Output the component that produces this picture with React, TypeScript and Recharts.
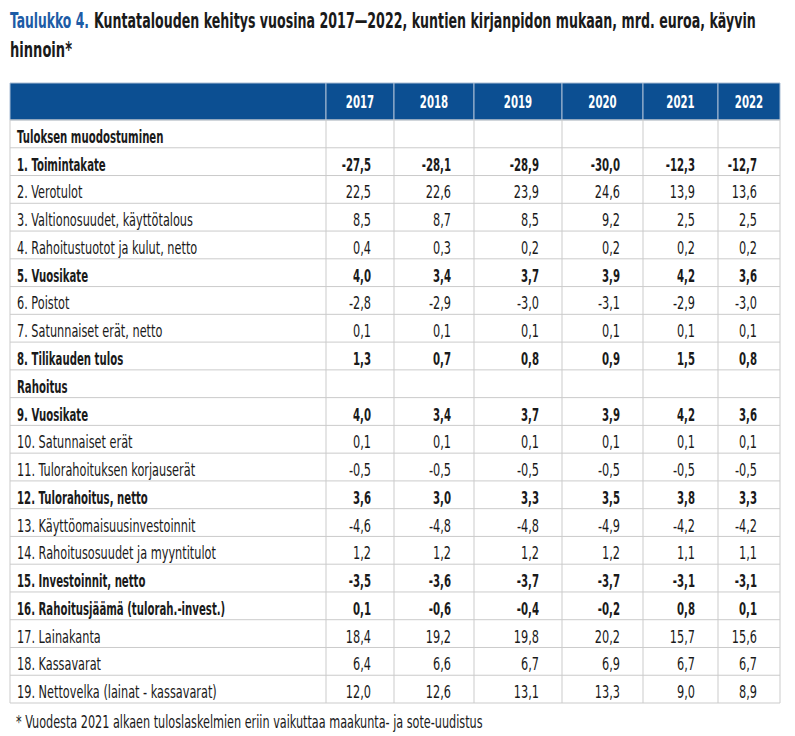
import React, { useLayoutEffect, useRef, useState } from 'react';
import { ScatterChart, Scatter, XAxis, YAxis, ReferenceLine, ReferenceArea } from 'recharts';

// ---------- data ----------
const titleLead = 'Taulukko 4.';
const titleRest = 'Kuntatalouden kehitys vuosina 2017\u20142022, kuntien kirjanpidon mukaan, mrd. euroa, käyvin';
const titleLine2 = 'hinnoin*';
const footnote = '* Vuodesta 2021 alkaen tuloslaskelmien eriin vaikuttaa maakunta- ja sote-uudistus';

const years = ['2017', '2018', '2019', '2020', '2021', '2022'];

const rowLabels = [
  'Tuloksen muodostuminen',
  '1. Toimintakate',
  '2. Verotulot',
  '3. Valtionosuudet, käyttötalous',
  '4. Rahoitustuotot ja kulut, netto',
  '5. Vuosikate',
  '6. Poistot',
  '7. Satunnaiset erät, netto',
  '8. Tilikauden tulos',
  'Rahoitus',
  '9. Vuosikate',
  '10. Satunnaiset erät',
  '11. Tulorahoituksen korjauserät',
  '12. Tulorahoitus, netto',
  '13. Käyttöomaisuusinvestoinnit',
  '14. Rahoitusosuudet ja myyntitulot',
  '15. Investoinnit, netto',
  '16. Rahoitusjäämä (tulorah.-invest.)',
  '17. Lainakanta',
  '18. Kassavarat',
  '19. Nettovelka (lainat - kassavarat)',
];

const boldRows = [0, 1, 5, 8, 9, 10, 13, 16, 17];

const v2017 = [null, -27.5, 22.5, 8.5, 0.4, 4.0, -2.8, 0.1, 1.3, null, 4.0, 0.1, -0.5, 3.6, -4.6, 1.2, -3.5, 0.1, 18.4, 6.4, 12.0];
const v2018 = [null, -28.1, 22.6, 8.7, 0.3, 3.4, -2.9, 0.1, 0.7, null, 3.4, 0.1, -0.5, 3.0, -4.8, 1.2, -3.6, -0.6, 19.2, 6.6, 12.6];
const v2019 = [null, -28.9, 23.9, 8.5, 0.2, 3.7, -3.0, 0.1, 0.8, null, 3.7, 0.1, -0.5, 3.3, -4.8, 1.2, -3.7, -0.4, 19.8, 6.7, 13.1];
const v2020 = [null, -30.0, 24.6, 9.2, 0.2, 3.9, -3.1, 0.1, 0.9, null, 3.9, 0.1, -0.5, 3.5, -4.9, 1.2, -3.7, -0.2, 20.2, 6.9, 13.3];
const v2021 = [null, -12.3, 13.9, 2.5, 0.2, 4.2, -2.9, 0.1, 1.5, null, 4.2, 0.1, -0.5, 3.8, -4.2, 1.1, -3.1, 0.8, 15.7, 6.7, 9.0];
const v2022 = [null, -12.7, 13.6, 2.5, 0.2, 3.6, -3.0, 0.1, 0.8, null, 3.6, 0.1, -0.5, 3.3, -4.2, 1.1, -3.1, 0.1, 15.6, 6.7, 8.9];

const seriesValues = [v2017, v2018, v2019, v2020, v2021, v2022];

// ---------- layout (table geometry in axis units) ----------
const TABLE_W = 770;
const colEdges = [0, 316, 384, 464, 552, 633, 708, 770];
const HEADER = 1.333;
const ROWS = rowLabels.length;

const FONT = '"DejaVu Sans Condensed", "Liberation Sans Narrow", "Liberation Sans", Arial, sans-serif';
const FS = 17;
const SCALE_REG = 0.74;
const SCALE_BOLD = 0.665;
const BLUE = '#0c4f92';
const GRID = '#cbcbcb';
const TEXT = '#1a1a1a';

const fmt = (v: number) => v.toFixed(1).replace('.', ',');

const labelData = rowLabels.map((text, i) => ({ x: 0, y: i + 0.5, text, bold: boldRows.includes(i) }));
const headerData = years.map((text, j) => ({ x: (colEdges[j + 1] + colEdges[j + 2]) / 2, y: -HEADER / 2, text }));
const valueData = seriesValues.map((vals, j) =>
  vals
    .map((v, i) => (v == null ? null : { x: colEdges[j + 2], y: i + 0.5, text: fmt(v as number), bold: boldRows.includes(i) }))
    .filter(Boolean) as { x: number; y: number; text: string; bold: boolean }[]
);

const CondText = ({ x, y, anchor, bold, fill, children }: any) => (
  <text
    transform={`translate(${x},${y}) scale(${bold ? SCALE_BOLD : SCALE_REG},1)`}
    x={0}
    y={0}
    textAnchor={anchor}
    fontFamily={FONT}
    fontSize={FS}
    fontWeight={bold ? 'bold' : 'normal'}
    fill={fill}
  >
    {children}
  </text>
);

const LabelShape = (p: any) => (
  <CondText x={p.cx + 7} y={p.cy + 9} anchor="start" bold={p.payload.bold} fill={TEXT}>
    {p.payload.text}
  </CondText>
);

const ValueShape = (p: any) => (
  <CondText x={p.cx - 23} y={p.cy + 9} anchor="end" bold={p.payload.bold} fill={TEXT}>
    {p.payload.text}
  </CondText>
);

const HeaderShape = (p: any) => (
  <CondText x={p.cx} y={p.cy + 6.5} anchor="middle" bold fill="#ffffff">
    {p.payload.text}
  </CondText>
);

// text fitted horizontally to a target width (measured at runtime)
const FitText = ({ x, y, width, size, bold, fill, children }: any) => {
  const ref = useRef<SVGTextElement>(null);
  const [s, setS] = useState(1);
  useLayoutEffect(() => {
    if (ref.current) {
      const w = ref.current.getComputedTextLength();
      if (w > 0) setS(width / w);
    }
  }, [width, children]);
  return (
    <text
      ref={ref}
      transform={`translate(${x},${y}) scale(${s},1)`}
      x={0}
      y={0}
      fontFamily={FONT}
      fontSize={size}
      fontWeight={bold ? 'bold' : 'normal'}
      fill={fill}
    >
      {children}
    </text>
  );
};

export default function App() {
  return (
    <div style={{ position: 'absolute', left: 0, top: 0, width: 795, height: 736, background: '#fff' }}>
      <svg width={795} height={70} style={{ position: 'absolute', left: 0, top: 0 }}>
        <FitText x={10} y={28} width={79} size={21} bold fill="#1d5ca6">
          {titleLead}
        </FitText>
        <FitText x={94} y={28} width={662} size={21} bold fill={TEXT}>
          {titleRest}
        </FitText>
        <FitText x={10} y={57} width={62} size={21} bold fill={TEXT}>
          {titleLine2}
        </FitText>
      </svg>
      <div style={{ position: 'absolute', left: 0, top: 73 }}>
        <ScatterChart width={795} height={640} margin={{ top: 10, right: 15, bottom: 10, left: 10 }}>
          <XAxis type="number" dataKey="x" domain={[0, TABLE_W]} allowDataOverflow hide />
          <YAxis type="number" dataKey="y" domain={[-HEADER, ROWS]} allowDataOverflow reversed hide />
          {colEdges.slice(0, -1).map((e, j) => (
            <ReferenceArea
              key={'h' + j}
              x1={e}
              x2={colEdges[j + 1]}
              y1={-HEADER}
              y2={0}
              fill={BLUE}
              fillOpacity={1}
              stroke="#a9bdd4"
              strokeWidth={1}
            />
          ))}
          {Array.from({ length: ROWS + 1 }, (_, i) => (
            <ReferenceLine key={'r' + i} y={i} stroke={GRID} strokeWidth={1} />
          ))}
          {colEdges.map((e, j) => (
            <ReferenceLine
              key={'c' + j}
              segment={[
                { x: e, y: 0 },
                { x: e, y: ROWS },
              ]}
              stroke={GRID}
              strokeWidth={1}
            />
          ))}
          <Scatter data={labelData} shape={LabelShape} isAnimationActive={false} />
          <Scatter data={headerData} shape={HeaderShape} isAnimationActive={false} />
          {valueData.map((d, j) => (
            <Scatter key={years[j]} name={years[j]} data={d} shape={ValueShape} isAnimationActive={false} />
          ))}
        </ScatterChart>
      </div>
      <svg width={795} height={33} style={{ position: 'absolute', left: 0, top: 703 }}>
        <FitText x={16} y={25} width={467} size={17} fill={TEXT}>
          {footnote}
        </FitText>
      </svg>
    </div>
  );
}
